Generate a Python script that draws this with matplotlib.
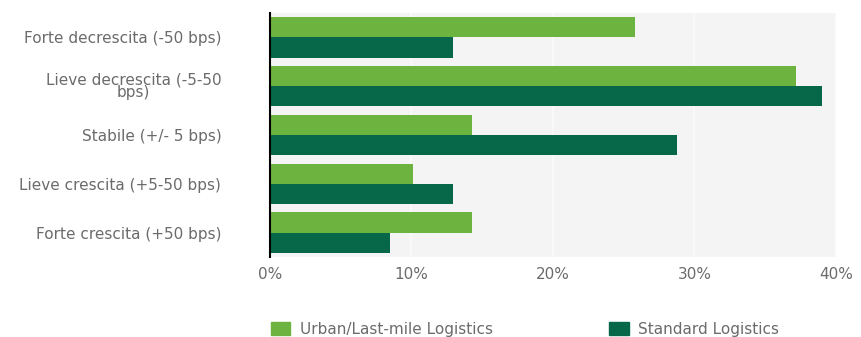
import numpy as np
import matplotlib.pyplot as plt
from matplotlib.patches import Patch
from matplotlib.ticker import FuncFormatter

categories = [
    "Forte decrescita (-50 bps)",
    "Lieve decrescita (-5-50\nbps)",
    "Stabile (+/- 5 bps)",
    "Lieve crescita (+5-50 bps)",
    "Forte crescita (+50 bps)",
]
urban = [25.8, 37.2, 14.3, 10.1, 14.3]
standard = [12.9, 39.0, 28.8, 12.9, 8.5]
series_names = ["Urban/Last-mile Logistics", "Standard Logistics"]

light_green = "#6db33f"
dark_green = "#066849"
text_color = "#6b6b6b"

plt.rcParams['font.family'] = ['DejaVu Sans']

fig = plt.figure(figsize=(8.62, 3.37), dpi=100)
ax = fig.add_axes([0.3132, 0.2374, 0.6566, 0.724])
ax.set_facecolor("#f4f4f4")

y = np.arange(len(categories))
h = 0.415
ax.barh(y - h / 2, urban, height=h, color=light_green, zorder=3)
ax.barh(y + h / 2, standard, height=h, color=dark_green, zorder=3)

ax.set_xlim(0, 40)
ax.set_ylim(4.5, -0.5)
ax.set_xticks([0, 10, 20, 30, 40])
ax.xaxis.set_major_formatter(FuncFormatter(lambda v, p: f"{v:.0f}%"))
ax.set_yticks(y)
ax.set_yticklabels(categories, multialignment="center", linespacing=0.75)

ax.grid(axis="x", color="#fbfbfb", linewidth=1.2, zorder=1)
ax.tick_params(axis="both", length=0, colors=text_color, labelsize=11)
ax.tick_params(axis="x", pad=7)
ax.tick_params(axis="y", pad=35)

for s in ["top", "right", "bottom"]:
    ax.spines[s].set_visible(False)
ax.spines["left"].set_color("black")
ax.spines["left"].set_linewidth(1.5)
ax.spines["left"].set_zorder(4)

handles = [Patch(color=light_green), Patch(color=dark_green)]
fig.legend(handles, series_names, loc="lower left", bbox_to_anchor=(0.298, -0.04),
           ncol=2, frameon=False, fontsize=11, labelcolor=text_color,
           handlelength=1.3, handleheight=1.0, columnspacing=7.6, handletextpad=0.6)

fig.savefig("out.png", dpi=100)
